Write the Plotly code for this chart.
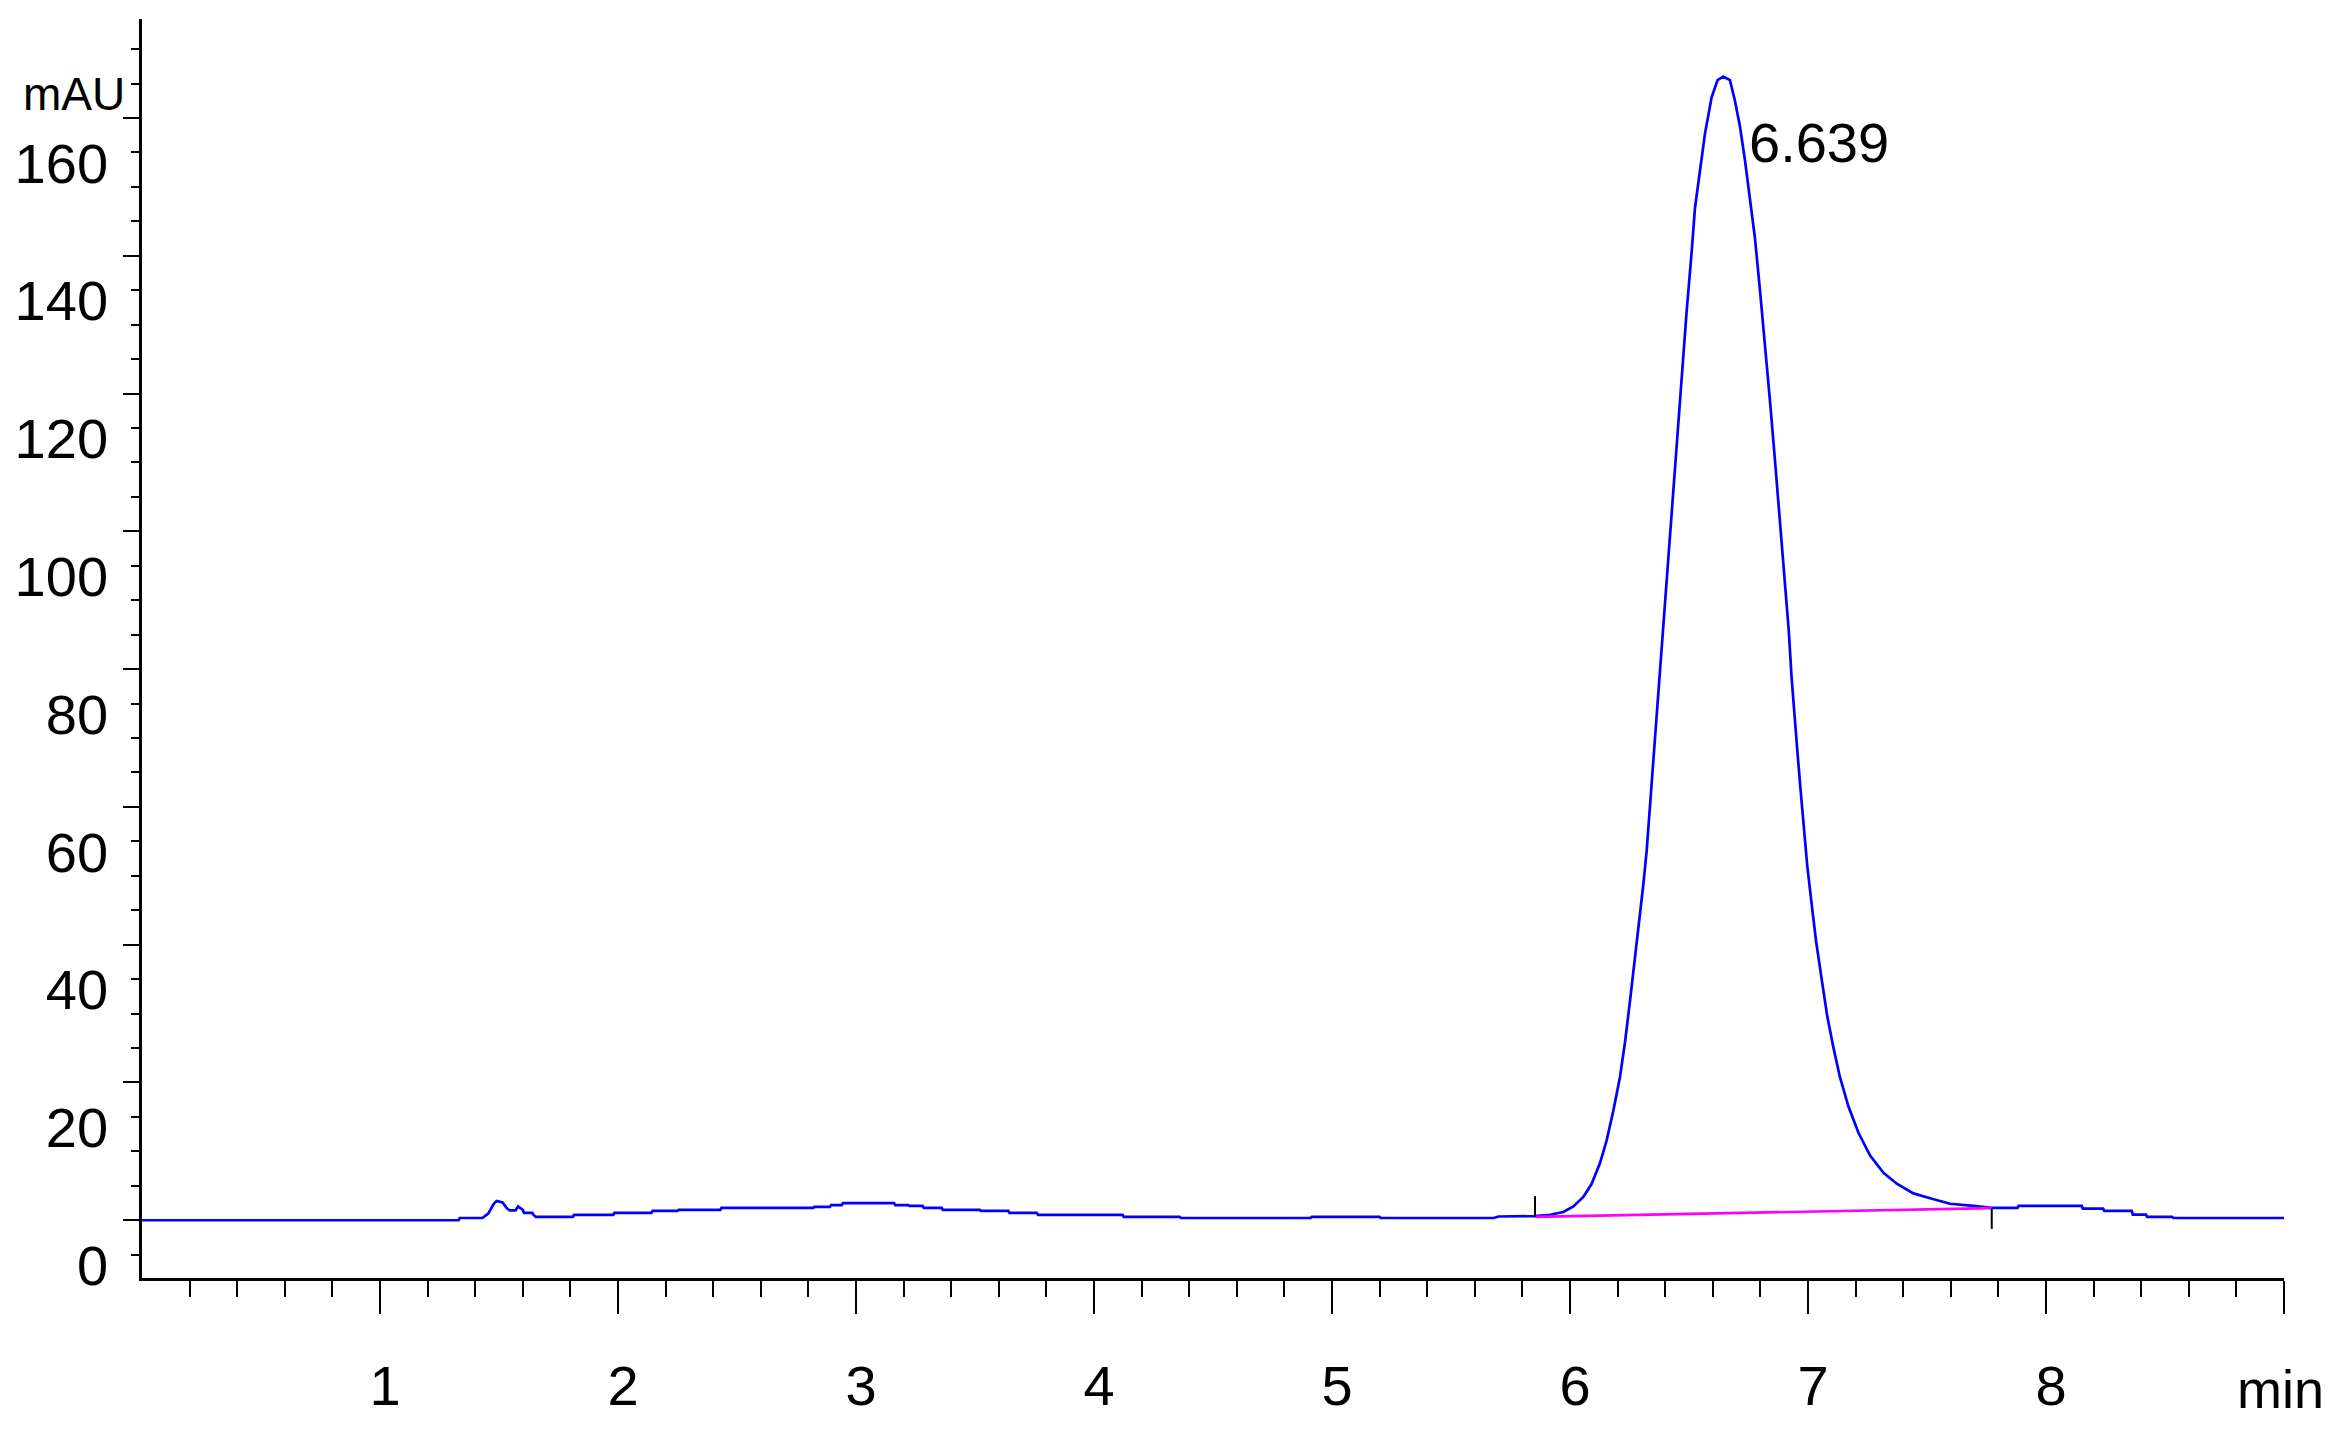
import plotly.graph_objects as go

# ---- data ----
time_min = [0.00, 1.33, 1.335, 1.43, 1.455, 1.47, 1.478, 1.49, 1.515, 1.534, 1.545, 1.57,
            1.58, 1.60, 1.605, 1.64, 1.645, 1.655, 1.81, 1.815, 1.98, 1.985, 2.14, 2.145,
            2.25, 2.255, 2.43, 2.435, 2.82, 2.825, 2.89, 2.895, 2.94, 2.945, 3.16, 3.165,
            3.22, 3.225, 3.28, 3.285, 3.36, 3.365, 3.52, 3.525, 3.64, 3.645, 3.76, 3.765,
            4.12, 4.125, 4.36, 4.365, 4.91, 4.915, 5.20, 5.205, 5.68, 5.70, 5.80, 5.853,
            5.916, 5.972, 6.014, 6.056, 6.091, 6.126, 6.154, 6.182, 6.210, 6.231, 6.252,
            6.273, 6.294, 6.308, 6.322, 6.336, 6.350, 6.364, 6.378, 6.392, 6.406, 6.420,
            6.434, 6.445, 6.458, 6.476, 6.490, 6.511, 6.525, 6.546, 6.567, 6.595, 6.62,
            6.644, 6.672, 6.693, 6.714, 6.735, 6.756, 6.777, 6.798, 6.819, 6.840, 6.861,
            6.882, 6.903, 6.919, 6.931, 6.945, 6.956, 6.969, 6.983, 6.997, 7.015, 7.034,
            7.057, 7.081, 7.106, 7.134, 7.170, 7.212, 7.261, 7.317, 7.373, 7.443, 7.513,
            7.597, 7.695, 7.772, 7.88, 7.885, 8.15, 8.155, 8.24, 8.245, 8.36, 8.365, 8.42,
            8.425, 8.53, 8.535, 9.00]
absorbance_mau = [0.00, 0.00, 0.33, 0.33, 0.97, 1.94, 2.4, 2.8, 2.6, 1.7, 1.45, 1.45,
                  2.0, 1.5, 1.06, 1.06, 0.77, 0.48, 0.48, 0.77, 0.77, 1.06, 1.06, 1.35,
                  1.35, 1.5, 1.5, 1.79, 1.79, 1.94, 1.94, 2.2, 2.2, 2.5, 2.5, 2.2,
                  2.2, 2.08, 2.08, 1.79, 1.79, 1.5, 1.5, 1.35, 1.35, 1.06, 1.06, 0.77,
                  0.77, 0.48, 0.48, 0.33, 0.33, 0.48, 0.48, 0.33, 0.33, 0.55, 0.6, 0.6,
                  0.8, 1.2, 2.0, 3.4, 5.3, 8.3, 11.6, 15.9, 20.8, 25.8, 31.8,
                  37.8, 43.8, 48.7, 53.6, 60.2, 66.7, 72.2, 78.8, 85.7, 92.2, 98.6,
                  106.1, 111.5, 117.4, 125.4, 131.9, 140.5, 146.9, 152.3, 157.7, 163.0, 165.5,
                  166.0, 165.5, 162.5, 158.8, 153.9, 148.0, 142.6, 135.1, 127.6, 119.0, 110.4,
                  101.3, 92.2, 85.7, 78.8, 73.3, 67.8, 62.4, 56.9, 51.4, 46.0, 40.5,
                  35.1, 29.6, 25.2, 20.8, 16.5, 12.7, 9.4, 6.9, 5.3, 3.9, 3.2,
                  2.4, 2.1, 1.8, 1.8, 2.1, 2.1, 1.7, 1.7, 1.35, 1.35, 0.83, 0.83,
                  0.48, 0.48, 0.33, 0.33]

# integration baseline (start / end of the peak)
baseline_time = [5.853, 7.772]
baseline_mau = [0.5, 1.75]
peak_rt = 6.639
peak_height = 166.0

y_tick_values = [0, 20, 40, 60, 80, 100, 120, 140, 160]
x_tick_values = [1, 2, 3, 4, 5, 6, 7, 8, 9]
x_tick_labels = ["1", "2", "3", "4", "5", "6", "7", "8", ""]
x_unit = "min"
y_unit = "mAU"

FONT = "Liberation Sans Narrow, Arial Narrow, Liberation Sans, Arial, sans-serif"
MARK_LEN = 3.0  # length of event marks in mAU

fig = go.Figure()
fig.add_trace(go.Scatter(x=time_min, y=absorbance_mau, mode="lines",
                         line=dict(color="#0000FF", width=2.7), hoverinfo="skip"))
fig.add_trace(go.Scatter(x=baseline_time, y=baseline_mau, mode="lines",
                         line=dict(color="#FF00FF", width=2.7), hoverinfo="skip"))
# peak start (upward) and end (downward) event marks
fig.add_trace(go.Scatter(x=[baseline_time[0], baseline_time[0]],
                         y=[baseline_mau[0], baseline_mau[0] + MARK_LEN],
                         mode="lines", line=dict(color="black", width=2), hoverinfo="skip"))
fig.add_trace(go.Scatter(x=[baseline_time[1], baseline_time[1]],
                         y=[baseline_mau[1], baseline_mau[1] - MARK_LEN],
                         mode="lines", line=dict(color="black", width=2), hoverinfo="skip"))

minor_x = [round(0.2 * k, 1) for k in range(1, 46) if k % 5 != 0]

fig.update_layout(
    width=2333, height=1448,
    margin=dict(l=134, r=57, t=11, b=178),
    paper_bgcolor="white", plot_bgcolor="white",
    showlegend=False,
    font=dict(family=FONT, color="black", size=56),
    xaxis=dict(
        range=[0, 9], showgrid=False, zeroline=False, automargin=False,
        showline=True, linecolor="black", linewidth=2.5,
        ticks="outside", ticklen=33, tickwidth=2, tickcolor="black",
        tickmode="array", tickvals=x_tick_values, ticktext=x_tick_labels,
        tickfont=dict(family=FONT, size=56, color="black"),
        ticklabelstandoff=24, ticklabelshift=5, ticklabeloverflow="allow",
        minor=dict(tickmode="array", tickvals=minor_x, ticks="outside",
                   ticklen=16, tickwidth=2, tickcolor="black"),
    ),
    yaxis=dict(
        range=[-8.38, 174.37], showgrid=False, zeroline=False, automargin=False,
        showline=True, linecolor="black", linewidth=2.5,
        ticks="outside", ticklen=16, tickwidth=2, tickcolor="black",
        tickmode="array", tickvals=y_tick_values,
        tickfont=dict(family=FONT, size=56, color="black"),
        ticklabelstandoff=4, ticklabelshift=45, ticklabeloverflow="allow",
        minor=dict(dtick=5, tick0=0, ticks="outside",
                   ticklen=8, tickwidth=2, tickcolor="black"),
    ),
    annotations=[
        dict(text=y_unit, xref="paper", x=0, xanchor="right", xshift=-15,
             yref="y", y=163.5, yanchor="middle", showarrow=False,
             font=dict(family=FONT, size=46, color="black")),
        dict(text=x_unit, xref="paper", x=1, xanchor="center", xshift=-4,
             yref="paper", y=0, yanchor="middle", yshift=-111, showarrow=False,
             font=dict(family=FONT, size=54, color="black")),
        dict(text=f"{peak_rt:.3f}", xref="x", x=peak_rt, xanchor="left", xshift=25,
             yref="y", y=peak_height, yanchor="middle", yshift=-66, showarrow=False,
             font=dict(family=FONT, size=56, color="black")),
    ],
)

fig.write_html("out.html")
